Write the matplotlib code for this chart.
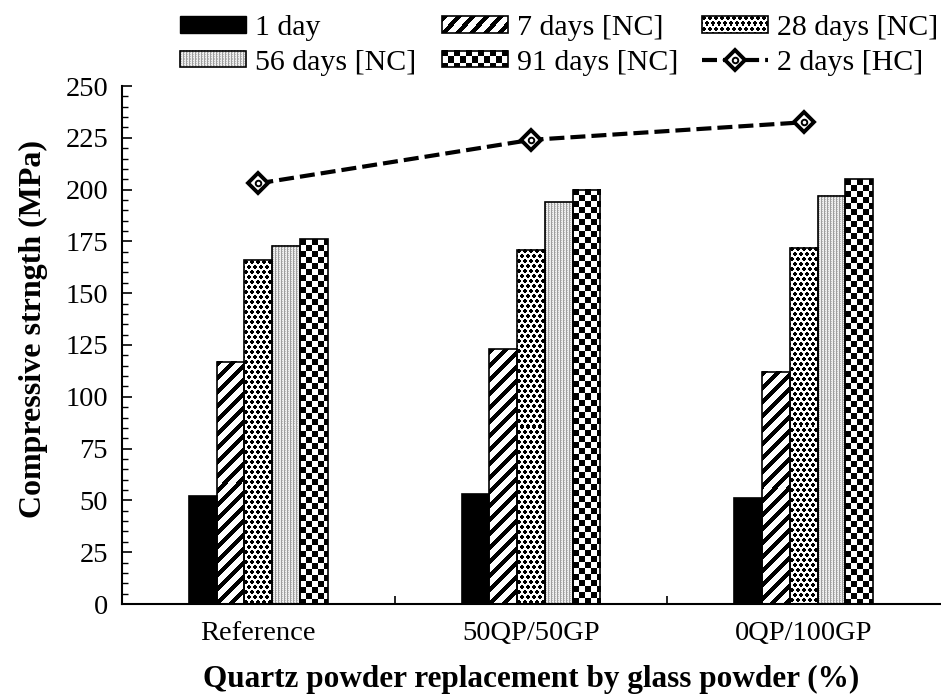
import numpy as np
import matplotlib
matplotlib.use('Agg')
import matplotlib.pyplot as plt
from matplotlib.patches import Rectangle
from matplotlib.image import BboxImage
from matplotlib.transforms import Bbox, TransformedBbox
from matplotlib.legend_handler import HandlerBase, HandlerTuple
from matplotlib.ticker import MultipleLocator

categories = ['Reference', '50QP/50GP', '0QP/100GP']
series_labels = ['1 day', '7 days [NC]', '28 days [NC]', '56 days [NC]', '91 days [NC]']
day1 = [52, 53, 51]
day7 = [117, 123, 112]
day28 = [166, 171, 172]
day56 = [173, 194, 197]
day91 = [176, 200, 205]
hc_label = '2 days [HC]'
hc_2days = [203, 224, 232.5]

series = [day1, day7, day28, day56, day91]
kinds = ['solid', 'stripes', 'dots', 'fine', 'checker']

plt.rcParams['font.family'] = ['Liberation Serif', 'DejaVu Serif']
plt.rcParams['font.size'] = 20


def texture(kind, w, h):
    # fill pattern in screen pixels (row 0 = top)
    yy, xx = np.mgrid[0:h, 0:w]
    g = np.ones((h, w))
    if kind == 'solid':
        g[:] = 0
    elif kind == 'stripes':
        g[((xx + yy) % 14) < 6] = 0
    elif kind == 'dots':
        row = yy // 5
        sx = (xx + 3 * (row % 2)) % 6
        sy = yy % 5
        g[((sx - 1.5) ** 2 + (sy - 1.5) ** 2) <= 2.8] = 0
    elif kind == 'fine':
        g[:] = 0.93
        g[xx % 3 == 0] = 0.62
        g[(xx % 3 == 1) & (yy % 2 == 0)] = 0.75
    elif kind == 'checker':
        g[((xx // 6 + yy // 6) % 2) == 0] = 0
    return np.dstack([g, g, g])


class TextureHandler(HandlerBase):
    def __init__(self, kind):
        super().__init__()
        self.kind = kind

    def create_artists(self, legend, orig_handle, xdescent, ydescent,
                       width, height, fontsize, trans):
        bb = TransformedBbox(Bbox.from_bounds(-xdescent, -ydescent, width, height), trans)
        img = BboxImage(bb, interpolation='nearest')
        w_px = max(int(round(width * 100 / 72)), 1)
        h_px = max(int(round(height * 100 / 72)), 1)
        img.set_data(texture(self.kind, w_px, h_px))
        rect = Rectangle((-xdescent, -ydescent), width, height, facecolor='none',
                         edgecolor='black', linewidth=1.2, transform=trans)
        return [img, rect]


W, H = 941, 695
fig = plt.figure(figsize=(W / 100, H / 100), dpi=100)
ax = fig.add_axes([122 / W, 1 - 604 / H, 818 / W, 518 / H])
ax.set_xlim(-0.5, 2.5)
ax.set_ylim(0, 250)

x = np.arange(len(categories))
bw = 0.1016
for i, (vals, kind) in enumerate(zip(series, kinds)):
    pos = x + (i - 2) * bw
    if kind == 'solid':
        ax.bar(pos, vals, bw, color='black', edgecolor='black', linewidth=1.2, zorder=2)
        continue
    ax.bar(pos, vals, bw, color='white', edgecolor='none', zorder=1)
    for p, v in zip(pos, vals):
        x0, x1 = p - bw / 2, p + bw / 2
        (px0, py0), (px1, py1) = ax.transData.transform([(x0, 0), (x1, v)])
        tex = texture(kind, int(round(px1 - px0)), int(round(py1 - py0)))
        ax.imshow(tex, extent=(x0, x1, 0, v), aspect='auto',
                  interpolation='nearest', zorder=1.5)
    ax.bar(pos, vals, bw, fill=False, edgecolor='black', linewidth=1.2, zorder=2)

line, = ax.plot(x, hc_2days, color='black', linewidth=3, dashes=(3.6, 1.45),
                marker='D', markersize=10, markerfacecolor='white',
                markeredgecolor='black', markeredgewidth=2.8, zorder=3)
dot, = ax.plot(x, hc_2days, linestyle='none', marker='o', markersize=4,
               markerfacecolor='white', markeredgecolor='black',
               markeredgewidth=1.4, zorder=4)

ax.set_xlim(-0.5, 2.5)
ax.set_ylim(0, 250)

ax.spines['top'].set_visible(False)
ax.spines['right'].set_visible(False)
ax.spines['left'].set_linewidth(1.5)
ax.spines['bottom'].set_linewidth(1.5)

ax.yaxis.set_major_locator(MultipleLocator(25))
ax.yaxis.set_minor_locator(MultipleLocator(5))
ax.tick_params(axis='y', which='major', direction='in', length=7, width=1.2, pad=10,
               labelsize=20.5)
ax.tick_params(axis='y', which='minor', direction='in', length=4, width=1)

ax.set_xticks(x)
ax.set_xticklabels(categories)
ax.set_xticks([0.5, 1.5], minor=True)
ax.tick_params(axis='x', which='major', length=0, pad=12, labelsize=20.5)
ax.tick_params(axis='x', which='minor', direction='in', length=6, width=1.2)

ax.set_xlabel('Quartz powder replacement by glass powder (%)', fontsize=22.5,
              fontweight='bold')
ax.xaxis.set_label_coords(0.5, -0.118)
ax.set_ylabel('Compressive strngth (MPa)', fontsize=23, fontweight='bold')
ax.yaxis.set_label_coords(-0.09, 0.53)

# legend: three columns placed separately
proxies = [Rectangle((0, 0), 1, 1, facecolor='black', edgecolor='black')]
hmap = {}
for kind in kinds[1:]:
    r = Rectangle((0, 0), 1, 1)
    hmap[r] = TextureHandler(kind)
    proxies.append(r)
hc_handle = (line, dot)
hmap[hc_handle] = HandlerTuple(ndivide=1)
handles = proxies + [hc_handle]
labels = series_labels + [hc_label]

for xpos, idx in [(180, [0, 3]), (442, [1, 4]), (702, [2, 5])]:
    fig.legend([handles[i] for i in idx], [labels[i] for i in idx],
               handler_map=hmap, loc='center left',
               bbox_to_anchor=(xpos / W, 1 - 45.5 / H), frameon=False,
               borderpad=0, borderaxespad=0, handlelength=2.21,
               handleheight=0.47, handletextpad=0.3, labelspacing=0.28,
               numpoints=1, fontsize=21.5)

fig.savefig('out.png', dpi=100, facecolor='white')
